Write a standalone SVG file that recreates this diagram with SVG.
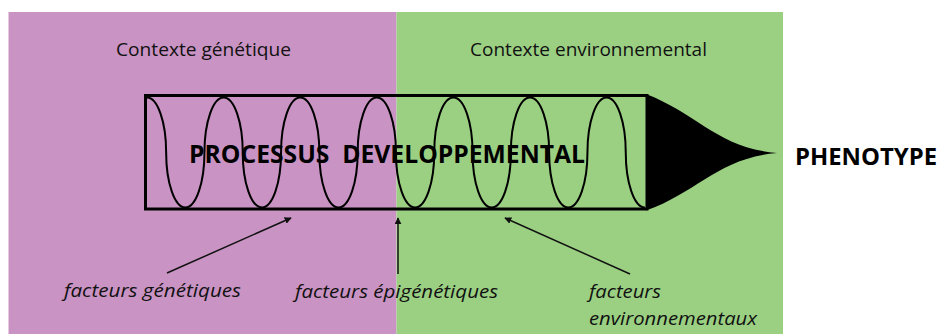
<svg xmlns="http://www.w3.org/2000/svg" width="944" height="334" viewBox="0 0 944 334">
  <style>
    .ctx { font-family: "Open Sans", "Liberation Sans", sans-serif; font-size: 18.5px; fill: #111; }
    .big { font-family: "Open Sans", "Liberation Sans", sans-serif; font-weight: bold; fill: #000; }
    .fac { font-family: "Open Sans", "Liberation Sans", sans-serif; font-style: italic; font-size: 19px; fill: #111; }
    .conn { stroke: #111; stroke-width: 1.5; fill: none; }
  </style>
  <defs>
    <marker id="ah" viewBox="0 0 10 10" refX="9" refY="5" markerWidth="7" markerHeight="7" markerUnits="userSpaceOnUse" orient="auto">
      <path d="M0,0 L10,5 L0,10 Z" fill="#111"/>
    </marker>
  </defs>
  <rect width="944" height="334" fill="#ffffff"/>

  <g id="genetic-context">
    <rect x="8.5" y="12" width="388" height="322" fill="#C993C3"/>
    <text class="ctx" x="116" y="56" textLength="175" lengthAdjust="spacingAndGlyphs">Contexte génétique</text>
  </g>
  <g id="environmental-context">
    <rect x="396.5" y="12" width="386.5" height="322" fill="#9BD083"/>
    <text class="ctx" x="470" y="56" textLength="237" lengthAdjust="spacingAndGlyphs">Contexte environnemental</text>
  </g>

  <g id="developmental-process">
    <path d="M147,97.5 a19.15,55 0 0 1 19.15,55 a19.15,55 0 0 0 19.15,55 a19.15,55 0 0 0 19.15,-55 a19.15,55 0 0 1 19.15,-55
             a19.15,55 0 0 1 19.15,55 a19.15,55 0 0 0 19.15,55 a19.15,55 0 0 0 19.15,-55 a19.15,55 0 0 1 19.15,-55
             a19.15,55 0 0 1 19.15,55 a19.15,55 0 0 0 19.15,55 a19.15,55 0 0 0 19.15,-55 a19.15,55 0 0 1 19.15,-55
             a19.15,55 0 0 1 19.15,55 a19.15,55 0 0 0 19.15,55 a19.15,55 0 0 0 19.15,-55 a19.15,55 0 0 1 19.15,-55
             a19.15,55 0 0 1 19.15,55 a19.15,55 0 0 0 19.15,55 a19.15,55 0 0 0 19.15,-55 a19.15,55 0 0 1 19.15,-55
             a19.15,55 0 0 1 19.15,55 a19.15,55 0 0 0 19.15,55 a19.15,55 0 0 0 19.15,-55 a19.15,55 0 0 1 19.15,-55
             a19.15,55 0 0 1 19.15,55 a19.15,55 0 0 0 19.15,55" fill="none" stroke="#000" stroke-width="2"/>
    <rect x="145.5" y="95.5" width="501.5" height="113.5" fill="none" stroke="#000" stroke-width="3"/>
    <path d="M646,94 C698,114 718,148 777,153 C718,158 698,192 646,210.5 Z" fill="#000"/>
    <text class="big" x="189" y="163" font-size="25.5" textLength="396" lengthAdjust="spacingAndGlyphs" xml:space="preserve">PROCESSUS  DEVELOPPEMENTAL</text>
  </g>

  <g id="phenotype">
    <text class="big" x="795" y="165" font-size="24" textLength="142" lengthAdjust="spacingAndGlyphs">PHENOTYPE</text>
  </g>

  <g id="genetic-factors">
    <text class="fac" x="64" y="297" textLength="177" lengthAdjust="spacingAndGlyphs">facteurs génétiques</text>
  </g>
  <g id="epigenetic-factors">
    <text class="fac" x="295" y="298" textLength="203" lengthAdjust="spacingAndGlyphs">facteurs épigénétiques</text>
  </g>
  <g id="environmental-factors">
    <text class="fac" x="589" y="298" textLength="72" lengthAdjust="spacingAndGlyphs">facteurs</text>
    <text class="fac" x="589" y="325" textLength="168" lengthAdjust="spacingAndGlyphs">environnementaux</text>
  </g>

  <g id="connectors">
    <line class="conn" x1="167" y1="273" x2="291" y2="218" marker-end="url(#ah)"/>
    <line class="conn" x1="398" y1="274" x2="398" y2="218" marker-end="url(#ah)"/>
    <line class="conn" x1="630" y1="274" x2="505" y2="218" marker-end="url(#ah)"/>
  </g>
</svg>
